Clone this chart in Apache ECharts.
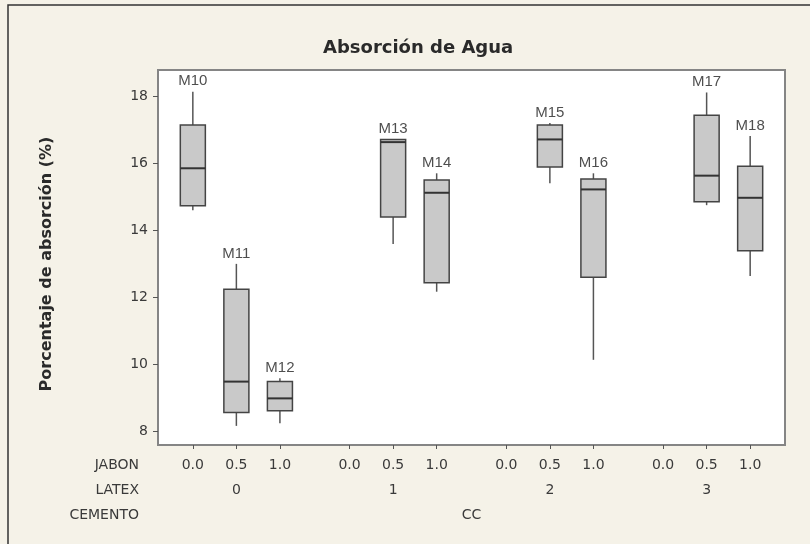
<!DOCTYPE html>
<html>
<head>
<meta charset="utf-8">
<title>Absorción de Agua</title>
<script src="https://cdn.jsdelivr.net/npm/echarts@6/dist/echarts.min.js"></script>
<style>
  html, body { margin: 0; padding: 0; background: #f5f2e8; }
  #chart { width: 810px; height: 544px; }
</style>
</head>
<body>
<div id="chart"></div>
<script>
// Factor levels shown under the axis
const jabonLevels = ['0.0', '0.5', '1.0'];
const latexLevels = ['0', '1', '2', '3'];
const cementoLevel = 'CC';

// Sample names and their (latex, jabon) level indexes
const sampleNames = ['M10', 'M11', 'M12', 'M13', 'M14', 'M15', 'M16', 'M17', 'M18'];
const sampleLatex = [0, 0, 0, 1, 1, 2, 2, 3, 3];
const sampleJabon = [0, 1, 2, 1, 2, 1, 2, 1, 2];

// Box statistics: [min, Q1, median, Q3, max] in % water absorption
const boxStats = [
  [14.60, 14.73, 15.85, 17.14, 18.13],
  [8.17, 8.57, 9.49, 12.24, 13.00],
  [8.25, 8.62, 8.99, 9.49, 9.59],
  [13.59, 14.40, 16.63, 16.71, 16.72],
  [12.17, 12.44, 15.12, 15.50, 15.70],
  [15.40, 15.89, 16.71, 17.14, 17.20],
  [10.14, 12.60, 15.22, 15.53, 15.70],
  [14.75, 14.85, 15.63, 17.43, 18.11],
  [12.64, 13.39, 14.97, 15.91, 16.81]
];

const yTicks = [8, 10, 12, 14, 16, 18];

// Layout of the grouped axis: one unit per jabon level, wider gap between latex groups
const GROUP_STEP = 3.6;
const BOX_WIDTH = 0.575;
const posOf = (g, j) => +(g * GROUP_STEP + j).toFixed(2);

const tickPositions = [];
latexLevels.forEach((_, g) => jabonLevels.forEach((_, j) => tickPositions.push(posOf(g, j))));
const groupCenters = latexLevels.map((_, g) => posOf(g, 1));
const allCenter = +((tickPositions[0] + tickPositions[tickPositions.length - 1]) / 2).toFixed(2);

const jabonLabelAt = {};
tickPositions.forEach((p, i) => { jabonLabelAt[Math.round(p * 100)] = jabonLevels[i % jabonLevels.length]; });
const latexLabelAt = {};
groupCenters.forEach((p, g) => { latexLabelAt[Math.round(p * 100)] = latexLevels[g]; });

const boxData = boxStats.map((s, i) => [posOf(sampleLatex[i], sampleJabon[i])].concat(s));
const nameData = boxStats.map((s, i) => [posOf(sampleLatex[i], sampleJabon[i]), s[4], sampleNames[i]]);

const axisFont = "'DejaVu Sans', sans-serif";
const textColor = '#3a3a3a';
const xMin = -0.8, xMax = 13.6;

const chart = echarts.init(document.getElementById('chart'), null, { renderer: 'canvas' });

function xAxisRow(offset, values, formatter, withTicks) {
  return {
    type: 'value', min: xMin, max: xMax, position: 'bottom', offset: offset,
    axisLine: { show: false, onZero: false },
    splitLine: { show: false },
    axisTick: withTicks
      ? { show: true, customValues: values, length: 4, lineStyle: { color: '#555', width: 1 } }
      : { show: false },
    axisLabel: {
      customValues: values, formatter: formatter, margin: withTicks ? 13 : 0,
      color: textColor, fontSize: 14, fontFamily: axisFont
    }
  };
}

const rowLabelFont = "14px 'DejaVu Sans', sans-serif";

chart.setOption({
  backgroundColor: '#f5f2e8',
  animation: false,
  title: {
    text: 'Absorción de Agua',
    left: 318, top: 34,
    textStyle: { fontFamily: axisFont, fontWeight: 'bold', fontSize: 18, color: '#2a2a2a' }
  },
  grid: {
    left: 158, right: 25, top: 70, bottom: 99,
    show: true, backgroundColor: '#ffffff', borderColor: '#858585', borderWidth: 2
  },
  xAxis: [
    xAxisRow(0, tickPositions, v => jabonLabelAt[Math.round(v * 100)] || '', true),
    xAxisRow(38, groupCenters, v => latexLabelAt[Math.round(v * 100)] || '', false),
    xAxisRow(63, [allCenter], () => cementoLevel, false)
  ],
  yAxis: {
    type: 'value', min: 7.6, max: 18.78,
    axisLine: { show: false, onZero: false },
    splitLine: { show: false },
    axisTick: { show: true, customValues: yTicks, length: 5, lineStyle: { color: '#555', width: 1 } },
    axisLabel: { customValues: yTicks, margin: 10, color: textColor, fontSize: 14, fontFamily: axisFont }
  },
  graphic: [
    {
      type: 'rect', silent: true,
      shape: { x: 8, y: 5, width: 820, height: 560 },
      style: { fill: 'none', stroke: '#333', lineWidth: 1.5 }
    },
    {
      type: 'text', x: 47, y: 264, rotation: Math.PI / 2,
      style: {
        text: 'Porcentaje de absorción (%)', align: 'center', verticalAlign: 'middle',
        font: "bold 16px 'DejaVu Sans', sans-serif", fill: '#2a2a2a'
      }
    },
    { type: 'text', x: 139, y: 465, style: { text: 'JABON', align: 'right', verticalAlign: 'middle', font: rowLabelFont, fill: textColor } },
    { type: 'text', x: 139, y: 490, style: { text: 'LATEX', align: 'right', verticalAlign: 'middle', font: rowLabelFont, fill: textColor } },
    { type: 'text', x: 139, y: 515, style: { text: 'CEMENTO', align: 'right', verticalAlign: 'middle', font: rowLabelFont, fill: textColor } }
  ],
  series: [
    {
      type: 'custom',
      xAxisIndex: 0,
      data: boxData,
      encode: { x: 0, y: [1, 2, 3, 4, 5] },
      renderItem: function (params, api) {
        const x = api.value(0);
        const pMin = api.coord([x, api.value(1)]);
        const pQ1 = api.coord([x, api.value(2)]);
        const pMed = api.coord([x, api.value(3)]);
        const pQ3 = api.coord([x, api.value(4)]);
        const pMax = api.coord([x, api.value(5)]);
        const half = api.size([BOX_WIDTH, 0])[0] / 2;
        const whisker = { stroke: '#555', lineWidth: 1.5 };
        return {
          type: 'group',
          children: [
            { type: 'line', shape: { x1: pMin[0], y1: pMin[1], x2: pQ1[0], y2: pQ1[1] }, style: whisker },
            { type: 'line', shape: { x1: pQ3[0], y1: pQ3[1], x2: pMax[0], y2: pMax[1] }, style: whisker },
            {
              type: 'rect',
              shape: { x: pQ3[0] - half, y: pQ3[1], width: half * 2, height: pQ1[1] - pQ3[1] },
              style: { fill: '#c9c9c9', stroke: '#444', lineWidth: 1.5 }
            },
            {
              type: 'line',
              shape: { x1: pMed[0] - half, y1: pMed[1], x2: pMed[0] + half, y2: pMed[1] },
              style: { stroke: '#333', lineWidth: 2 }
            }
          ]
        };
      }
    },
    {
      type: 'scatter',
      xAxisIndex: 0,
      data: nameData,
      symbolSize: 0,
      label: {
        show: true, position: 'top', distance: 3,
        formatter: p => p.data[2],
        color: '#222', fontSize: 15, fontFamily: "'Liberation Sans', Arial, sans-serif"
      }
    }
  ]
});
</script>
</body>
</html>
